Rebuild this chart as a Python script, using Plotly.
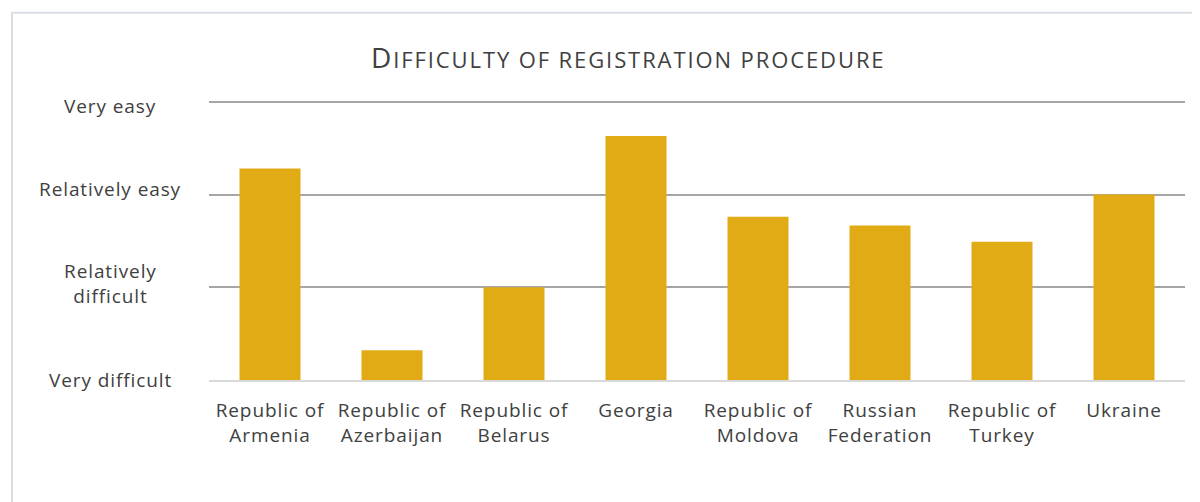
import plotly.graph_objects as go

categories = ["Republic of<br>Armenia", "Republic of<br>Azerbaijan", "Republic of<br>Belarus",
              "Georgia", "Republic of<br>Moldova", "Russian<br>Federation",
              "Republic of<br>Turkey", "Ukraine"]
values = [2.28, 0.32, 1.0, 2.63, 1.76, 1.665, 1.49, 2.0]
level_values = [0, 1, 2, 3]
level_labels = ["Very difficult", "Relatively<br>difficult", "Relatively easy", "Very easy"]
level_label_shift = [0, 4, 6, -4]
title_first = "D"
title_rest = "IFFICULTY OF REGISTRATION PROCEDURE"

OFF = 8  # page body margin
W, H = 1200 - OFF, 502 - OFF
YMAX = 3.03
# absolute page pixel positions of the plot area
AL, AR, AB = 209, 1185, 380
AT = AB - (AB - 102) / 3 * YMAX
L, R, T, B = AL - OFF, W - (AR - OFF), AT - OFF, H - (AB - OFF)
pw, ph = W - L - R, H - T - B

def px_x(p):
    return (p - AL) / pw

def px_y(p):
    return (AB - p) / ph

FONT = "Open Sans"
TXT = "#404040"
LS = "letter-spacing:0.9px"

def sp(t):
    return "<br>".join(f"<span style='{LS}'>{s}</span>" for s in t.split("<br>"))

fig = go.Figure(go.Bar(x=categories, y=values, marker_color="#E1AB16",
                       marker_line_width=0, width=0.5))

annotations = []
for v, lab, sh in zip(level_values, level_labels, level_label_shift):
    annotations.append(dict(x=px_x(110), xref="paper", y=v, yref="y", text=sp(lab),
                            showarrow=False, xanchor="center", yanchor="middle", yshift=sh,
                            align="center", font=dict(family=FONT, size=19, color=TXT)))
annotations.append(dict(x=px_x(628), xref="paper", y=px_y(57), yref="paper",
                        text=f"<span style='font-size:28px;letter-spacing:1.9px'>{title_first}</span>"
                             f"<span style='letter-spacing:1.9px'>{title_rest}</span>",
                        showarrow=False, xanchor="center", yanchor="middle",
                        font=dict(family=FONT, size=22, color=TXT)))

fig.update_layout(
    width=W, height=H,
    margin=dict(l=L, r=R, t=T, b=B),
    paper_bgcolor="white", plot_bgcolor="white",
    showlegend=False,
    annotations=annotations,
    shapes=[dict(type="rect", xref="paper", yref="paper",
                 x0=px_x(12), x1=px_x(1215), y0=px_y(13), y1=px_y(520),
                 line=dict(color="#D9DEE4", width=2), layer="below")],
    xaxis=dict(showgrid=False, showline=True, linecolor="#D9D9D9", linewidth=2,
               ticks="", tickfont=dict(family=FONT, size=19, color=TXT),
               tickvals=categories, ticktext=[sp(c) for c in categories],
               ticklabelstandoff=12, fixedrange=True),
    yaxis=dict(range=[0, YMAX], tickvals=level_values, showticklabels=False,
               showgrid=True, gridcolor="#A6A6A6", gridwidth=2, zeroline=False,
               showline=False, fixedrange=True),
)

fig.write_html("out.html")
